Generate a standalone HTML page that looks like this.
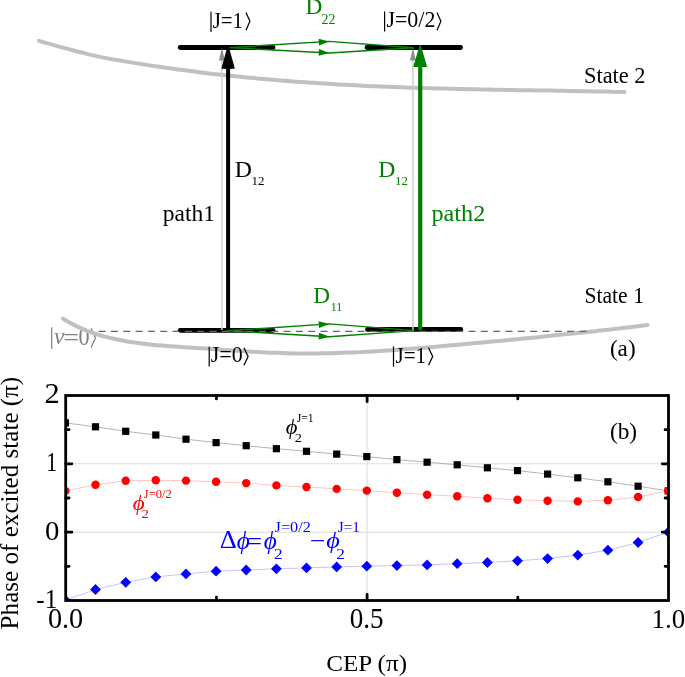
<!DOCTYPE html>
<html><head><meta charset="utf-8"><style>
html,body{margin:0;padding:0;background:#fff;width:685px;height:677px;overflow:hidden}
svg{display:block;will-change:transform}
text{font-family:"Liberation Serif",serif}
</style></head><body>
<svg width="685" height="677" viewBox="0 0 685 677">
<text font-size="22.98" fill="#808080" font-style="italic" textLength="10.56" lengthAdjust="spacingAndGlyphs" x="53.96" y="344.30">&#x3bd;</text>
<text font-size="24.50" fill="#808080" textLength="15.51" lengthAdjust="spacingAndGlyphs" x="63.47" y="345.72">=</text>
<text font-size="24.68" fill="#808080" textLength="11.09" lengthAdjust="spacingAndGlyphs" x="78.45" y="345.16">0</text>
<polyline points="91.10,328.30 95.50,338.00 91.10,347.60" fill="none" stroke="#808080" stroke-width="1.25"/>
<line x1="51.7" y1="327.2" x2="51.7" y2="349.1" stroke="#808080" stroke-width="1.2"/>
<path d="M39.0,40.8 C41.1,41.4 47.3,43.2 51.5,44.4 C55.6,45.6 59.8,46.8 63.9,47.9 C68.1,49.1 72.2,50.2 76.4,51.3 C80.5,52.4 84.7,53.4 88.8,54.4 C93.0,55.4 97.1,56.3 101.3,57.1 C105.4,58.0 109.6,58.7 113.7,59.5 C117.9,60.2 122.0,60.9 126.2,61.6 C130.4,62.3 134.5,63.0 138.7,63.6 C142.8,64.3 147.0,64.9 151.1,65.6 C155.3,66.2 159.4,66.8 163.6,67.4 C167.7,68.0 171.9,68.6 176.0,69.2 C180.2,69.7 184.3,70.3 188.5,70.8 C192.6,71.3 196.8,71.9 200.9,72.4 C205.1,72.9 209.3,73.4 213.4,73.9 C217.6,74.3 221.7,74.8 225.9,75.3 C230.0,75.7 234.2,76.2 238.3,76.6 C242.5,77.0 246.6,77.4 250.8,77.8 C254.9,78.2 259.1,78.6 263.2,79.0 C267.4,79.3 271.5,79.7 275.7,80.0 C279.8,80.4 284.0,80.7 288.1,81.0 C292.3,81.4 296.5,81.7 300.6,82.0 C304.8,82.3 308.9,82.6 313.1,82.8 C317.2,83.1 321.4,83.4 325.5,83.6 C329.7,83.9 333.8,84.1 338.0,84.4 C342.1,84.6 346.3,84.8 350.4,85.0 C354.6,85.3 358.7,85.5 362.9,85.7 C367.0,85.9 371.2,86.1 375.4,86.2 C379.5,86.4 383.7,86.6 387.8,86.8 C392.0,86.9 396.1,87.1 400.3,87.2 C404.4,87.4 408.6,87.5 412.7,87.7 C416.9,87.8 421.0,87.9 425.2,88.1 C429.3,88.2 433.5,88.3 437.6,88.4 C441.8,88.5 445.9,88.7 450.1,88.8 C454.2,88.9 458.4,89.0 462.6,89.1 C466.7,89.2 470.9,89.2 475.0,89.3 C479.2,89.4 483.3,89.5 487.5,89.6 C491.6,89.7 495.8,89.7 499.9,89.8 C504.1,89.9 508.2,90.0 512.4,90.0 C516.5,90.1 520.7,90.2 524.8,90.3 C529.0,90.3 533.1,90.4 537.3,90.4 C541.5,90.5 545.6,90.6 549.8,90.6 C553.9,90.7 558.1,90.8 562.2,90.8 C566.4,90.9 570.5,91.0 574.7,91.0 C578.8,91.1 583.0,91.2 587.1,91.2 C591.3,91.3 595.4,91.4 599.6,91.4 C603.7,91.5 607.9,91.6 612.0,91.7 C616.2,91.7 622.4,91.8 624.5,91.9" fill="none" stroke="#c0c0c0" stroke-width="4" stroke-linecap="round"/>
<path d="M63.0,318.7 C65.1,319.8 71.3,323.6 75.4,325.6 C79.6,327.7 83.7,329.5 87.9,331.1 C92.0,332.7 96.2,334.1 100.3,335.3 C104.5,336.5 108.6,337.6 112.7,338.5 C116.9,339.5 121.0,340.3 125.2,341.0 C129.3,341.7 133.5,342.4 137.6,342.9 C141.8,343.5 145.9,344.0 150.1,344.4 C154.2,344.9 158.3,345.3 162.5,345.6 C166.6,346.0 170.8,346.3 174.9,346.6 C179.1,346.9 183.2,347.1 187.4,347.4 C191.5,347.7 195.7,347.9 199.8,348.2 C203.9,348.5 208.1,348.7 212.2,349.0 C216.4,349.3 220.5,349.6 224.7,349.9 C228.8,350.1 233.0,350.4 237.1,350.7 C241.3,350.9 245.4,351.2 249.5,351.5 C253.7,351.7 257.8,351.9 262.0,352.2 C266.1,352.4 270.3,352.6 274.4,352.7 C278.6,352.9 282.7,353.0 286.9,353.2 C291.0,353.3 295.1,353.4 299.3,353.4 C303.4,353.4 307.6,353.5 311.7,353.5 C315.9,353.4 320.0,353.4 324.2,353.3 C328.3,353.3 332.5,353.2 336.6,353.1 C340.7,352.9 344.9,352.8 349.0,352.6 C353.2,352.5 357.3,352.3 361.5,352.1 C365.6,351.9 369.8,351.6 373.9,351.4 C378.0,351.2 382.2,350.9 386.3,350.6 C390.5,350.3 394.6,350.1 398.8,349.8 C402.9,349.4 407.1,349.1 411.2,348.8 C415.4,348.5 419.5,348.1 423.6,347.8 C427.8,347.4 431.9,347.1 436.1,346.7 C440.2,346.4 444.4,346.0 448.5,345.6 C452.7,345.2 456.8,344.9 461.0,344.5 C465.1,344.1 469.2,343.7 473.4,343.3 C477.5,342.9 481.7,342.6 485.8,342.2 C490.0,341.8 494.1,341.4 498.3,341.0 C502.4,340.6 506.6,340.2 510.7,339.8 C514.8,339.4 519.0,339.0 523.1,338.6 C527.3,338.2 531.4,337.8 535.6,337.4 C539.7,337.0 543.9,336.5 548.0,336.1 C552.2,335.7 556.3,335.3 560.4,334.8 C564.6,334.4 568.7,334.0 572.9,333.5 C577.0,333.1 581.2,332.7 585.3,332.2 C589.5,331.8 593.6,331.3 597.8,330.8 C601.9,330.4 606.0,329.9 610.2,329.5 C614.3,329.0 618.5,328.5 622.6,328.0 C626.8,327.6 630.9,327.1 635.1,326.6 C639.2,326.1 645.4,325.4 647.5,325.1" fill="none" stroke="#c0c0c0" stroke-width="4" stroke-linecap="round"/>
<line x1="180.2" y1="47.5" x2="273.0" y2="47.5" stroke="#000" stroke-width="4.8" stroke-linecap="round"/>
<line x1="367.0" y1="47.5" x2="460.5" y2="47.5" stroke="#000" stroke-width="4.8" stroke-linecap="round"/>
<line x1="180.2" y1="330.3" x2="273.0" y2="330.3" stroke="#000" stroke-width="4.8" stroke-linecap="round"/>
<line x1="367.5" y1="329.4" x2="460.8" y2="329.4" stroke="#000" stroke-width="4.8" stroke-linecap="round"/>
<line x1="221.9" y1="330" x2="221.9" y2="56" stroke="#cfcfcf" stroke-width="1.5"/>
<path d="M221.90,47.80 L224.90,60.40 L218.90,60.40 Z" fill="#8e8e8e" />
<line x1="412.9" y1="330" x2="412.9" y2="56" stroke="#cfcfcf" stroke-width="1.5"/>
<path d="M412.90,47.80 L415.90,60.40 L409.90,60.40 Z" fill="#8e8e8e" />
<line x1="228.1" y1="330" x2="228.1" y2="62" stroke="#000" stroke-width="4"/>
<path d="M228.10,46.50 L234.10,68.20 L222.10,68.20 Z" fill="#000" stroke="#000" stroke-width="1.2" stroke-linejoin="round"/>
<line x1="420.2" y1="330" x2="420.2" y2="62" stroke="#008000" stroke-width="4.2"/>
<path d="M420.20,45.50 L426.40,66.40 L414.00,66.40 Z" fill="#008000" stroke="#008000" stroke-width="1.2" stroke-linejoin="round"/>
<polyline points="229.5,47.6 329.3,41.4 413.5,47.8" fill="none" stroke="#008000" stroke-width="1.45" stroke-linejoin="round"/><path d="M329.30,41.40 L319.03,45.44 L318.61,38.66 Z" fill="#008000" /><polyline points="229.5,47.6 329.3,53.0 413.5,47.8" fill="none" stroke="#008000" stroke-width="1.45" stroke-linejoin="round"/><path d="M329.30,53.00 L318.63,55.83 L319.00,49.04 Z" fill="#008000" />
<polyline points="227.5,330.7 329.3,323.9 414.3,330.6" fill="none" stroke="#008000" stroke-width="1.45" stroke-linejoin="round"/><path d="M329.30,323.90 L319.05,327.99 L318.60,321.21 Z" fill="#008000" /><polyline points="227.5,330.7 329.3,336.8 414.3,330.6" fill="none" stroke="#008000" stroke-width="1.45" stroke-linejoin="round"/><path d="M329.30,336.80 L318.62,339.57 L319.02,332.78 Z" fill="#008000" />
<line x1="98.6" y1="331.4" x2="586.6" y2="331.4" stroke="#666" stroke-width="1.3" stroke-dasharray="7,5.33"/>
<text font-size="23.07" fill="#000" textLength="30.41" lengthAdjust="spacingAndGlyphs" x="212.66" y="27.75">J=1</text>
<text font-size="23.22" fill="#000" textLength="49.00" lengthAdjust="spacingAndGlyphs" x="386.38" y="27.30">J=0/2</text>
<text font-size="22.89" fill="#008000" textLength="16.80" lengthAdjust="spacingAndGlyphs" x="305.64" y="14.40">D</text>
<text font-size="14.09" fill="#008000" textLength="13.87" lengthAdjust="spacingAndGlyphs" x="321.62" y="23.71">22</text>
<text font-size="22.90" fill="#000" textLength="17.14" lengthAdjust="spacingAndGlyphs" x="234.76" y="176.90">D</text>
<text font-size="13.24" fill="#000" textLength="12.96" lengthAdjust="spacingAndGlyphs" x="251.57" y="185.35">12</text>
<text font-size="23.05" fill="#008000" textLength="17.13" lengthAdjust="spacingAndGlyphs" x="378.25" y="176.75">D</text>
<text font-size="13.23" fill="#008000" textLength="12.83" lengthAdjust="spacingAndGlyphs" x="395.02" y="185.35">12</text>
<text font-size="23.78" fill="#000" textLength="52.27" lengthAdjust="spacingAndGlyphs" x="162.70" y="221.27">path1</text>
<text font-size="23.78" fill="#008000" textLength="53.80" lengthAdjust="spacingAndGlyphs" x="431.52" y="221.27">path2</text>
<text font-size="22.68" fill="#000" textLength="61.53" lengthAdjust="spacingAndGlyphs" x="584.04" y="83.45">State 2</text>
<text font-size="22.65" fill="#000" textLength="59.65" lengthAdjust="spacingAndGlyphs" x="584.38" y="303.40">State 1</text>
<text font-size="23.05" fill="#008000" textLength="16.80" lengthAdjust="spacingAndGlyphs" x="313.25" y="302.55">D</text>
<text font-size="13.33" fill="#008000" textLength="11.46" lengthAdjust="spacingAndGlyphs" x="330.65" y="311.40">11</text>
<text font-size="22.48" fill="#000" textLength="32.03" lengthAdjust="spacingAndGlyphs" x="210.66" y="362.45">J=0</text>
<text font-size="22.32" fill="#000" textLength="30.62" lengthAdjust="spacingAndGlyphs" x="395.48" y="362.60">J=1</text>
<text font-size="23.06" fill="#000" textLength="25.74" lengthAdjust="spacingAndGlyphs" x="609.92" y="355.69">(a)</text>
<polyline points="246.00,12.40 249.90,21.35 246.00,30.30" fill="none" stroke="#000" stroke-width="1.25" stroke-linejoin="miter"/>
<polyline points="437.00,12.40 440.90,21.30 437.00,30.20" fill="none" stroke="#000" stroke-width="1.25" stroke-linejoin="miter"/>
<polyline points="243.90,347.70 248.10,356.45 243.90,365.20" fill="none" stroke="#000" stroke-width="1.25" stroke-linejoin="miter"/>
<polyline points="428.50,347.70 432.70,356.45 428.50,365.20" fill="none" stroke="#000" stroke-width="1.25" stroke-linejoin="miter"/>
<line x1="211.00" y1="11.70" x2="211.00" y2="31.90" stroke="#000" stroke-width="1.20"/>
<line x1="384.60" y1="11.50" x2="384.60" y2="31.60" stroke="#000" stroke-width="1.20"/>
<line x1="209.20" y1="346.70" x2="209.20" y2="366.50" stroke="#000" stroke-width="1.20"/>
<line x1="393.50" y1="346.40" x2="393.50" y2="366.80" stroke="#000" stroke-width="1.20"/>
<line x1="65.7" y1="463.8" x2="668.5" y2="463.8" stroke="#dcdcdc" stroke-width="1"/>
<line x1="65.7" y1="532.2" x2="668.5" y2="532.2" stroke="#dcdcdc" stroke-width="1"/>
<line x1="367.1" y1="395.5" x2="367.1" y2="600.5" stroke="#dcdcdc" stroke-width="1"/>
<defs><clipPath id="pc"><rect x="65.7" y="395.5" width="602.8" height="205.0"/></clipPath></defs><g clip-path="url(#pc)">
<polyline points="65.4,422.9 95.5,426.8 125.7,431.3 155.8,435.0 186.0,439.2 216.1,442.6 246.2,445.7 276.4,448.7 306.5,451.3 336.7,454.1 366.8,456.6 396.9,459.6 427.1,462.2 457.2,464.8 487.4,467.8 517.5,470.6 547.6,474.1 577.8,477.8 607.9,481.8 638.1,486.2 668.2,490.9" fill="none" stroke="#b4b4b4" stroke-width="1"/>
<polyline points="65.4,490.9 95.5,484.8 125.7,480.8 155.8,480.3 186.0,480.6 216.1,481.8 246.2,483.1 276.4,485.4 306.5,487.0 336.7,488.9 366.8,490.6 396.9,492.8 427.1,494.7 457.2,496.3 487.4,498.2 517.5,499.8 547.6,500.7 577.8,501.4 607.9,500.2 638.1,497.0 668.2,490.9" fill="none" stroke="#ffc4c4" stroke-width="1"/>
<polyline points="65.4,600.2 95.5,589.5 125.7,582.3 155.8,576.9 186.0,573.9 216.1,571.2 246.2,570.0 276.4,568.8 306.5,567.9 336.7,566.9 366.8,566.2 396.9,565.6 427.1,564.9 457.2,563.7 487.4,562.5 517.5,560.8 547.6,558.6 577.8,555.1 607.9,550.2 638.1,542.5 668.2,532.2" fill="none" stroke="#c4c4ff" stroke-width="1"/>
<rect x="61.8" y="419.3" width="7.2" height="7.2" fill="#000"/>
<rect x="91.9" y="423.2" width="7.2" height="7.2" fill="#000"/>
<rect x="122.1" y="427.7" width="7.2" height="7.2" fill="#000"/>
<rect x="152.2" y="431.4" width="7.2" height="7.2" fill="#000"/>
<rect x="182.4" y="435.6" width="7.2" height="7.2" fill="#000"/>
<rect x="212.5" y="439.0" width="7.2" height="7.2" fill="#000"/>
<rect x="242.6" y="442.1" width="7.2" height="7.2" fill="#000"/>
<rect x="272.8" y="445.1" width="7.2" height="7.2" fill="#000"/>
<rect x="302.9" y="447.7" width="7.2" height="7.2" fill="#000"/>
<rect x="333.1" y="450.5" width="7.2" height="7.2" fill="#000"/>
<rect x="363.2" y="453.0" width="7.2" height="7.2" fill="#000"/>
<rect x="393.3" y="456.0" width="7.2" height="7.2" fill="#000"/>
<rect x="423.5" y="458.6" width="7.2" height="7.2" fill="#000"/>
<rect x="453.6" y="461.2" width="7.2" height="7.2" fill="#000"/>
<rect x="483.8" y="464.2" width="7.2" height="7.2" fill="#000"/>
<rect x="513.9" y="467.0" width="7.2" height="7.2" fill="#000"/>
<rect x="544.0" y="470.5" width="7.2" height="7.2" fill="#000"/>
<rect x="574.2" y="474.2" width="7.2" height="7.2" fill="#000"/>
<rect x="604.3" y="478.2" width="7.2" height="7.2" fill="#000"/>
<rect x="634.5" y="482.6" width="7.2" height="7.2" fill="#000"/>
<rect x="664.6" y="487.3" width="7.2" height="7.2" fill="#000"/>
<circle cx="65.4" cy="490.9" r="4.2" fill="#ff0000"/>
<circle cx="95.5" cy="484.8" r="4.2" fill="#ff0000"/>
<circle cx="125.7" cy="480.8" r="4.2" fill="#ff0000"/>
<circle cx="155.8" cy="480.3" r="4.2" fill="#ff0000"/>
<circle cx="186.0" cy="480.6" r="4.2" fill="#ff0000"/>
<circle cx="216.1" cy="481.8" r="4.2" fill="#ff0000"/>
<circle cx="246.2" cy="483.1" r="4.2" fill="#ff0000"/>
<circle cx="276.4" cy="485.4" r="4.2" fill="#ff0000"/>
<circle cx="306.5" cy="487.0" r="4.2" fill="#ff0000"/>
<circle cx="336.7" cy="488.9" r="4.2" fill="#ff0000"/>
<circle cx="366.8" cy="490.6" r="4.2" fill="#ff0000"/>
<circle cx="396.9" cy="492.8" r="4.2" fill="#ff0000"/>
<circle cx="427.1" cy="494.7" r="4.2" fill="#ff0000"/>
<circle cx="457.2" cy="496.3" r="4.2" fill="#ff0000"/>
<circle cx="487.4" cy="498.2" r="4.2" fill="#ff0000"/>
<circle cx="517.5" cy="499.8" r="4.2" fill="#ff0000"/>
<circle cx="547.6" cy="500.7" r="4.2" fill="#ff0000"/>
<circle cx="577.8" cy="501.4" r="4.2" fill="#ff0000"/>
<circle cx="607.9" cy="500.2" r="4.2" fill="#ff0000"/>
<circle cx="638.1" cy="497.0" r="4.2" fill="#ff0000"/>
<circle cx="668.2" cy="490.9" r="4.2" fill="#ff0000"/>
<path d="M65.4,594.8 L70.8,600.2 L65.4,605.6 L60.0,600.2 Z" fill="#0000ff"/>
<path d="M95.5,584.1 L100.9,589.5 L95.5,594.9 L90.1,589.5 Z" fill="#0000ff"/>
<path d="M125.7,576.9 L131.1,582.3 L125.7,587.7 L120.3,582.3 Z" fill="#0000ff"/>
<path d="M155.8,571.5 L161.2,576.9 L155.8,582.3 L150.4,576.9 Z" fill="#0000ff"/>
<path d="M186.0,568.5 L191.4,573.9 L186.0,579.3 L180.6,573.9 Z" fill="#0000ff"/>
<path d="M216.1,565.8 L221.5,571.2 L216.1,576.6 L210.7,571.2 Z" fill="#0000ff"/>
<path d="M246.2,564.6 L251.6,570.0 L246.2,575.4 L240.8,570.0 Z" fill="#0000ff"/>
<path d="M276.4,563.4 L281.8,568.8 L276.4,574.2 L271.0,568.8 Z" fill="#0000ff"/>
<path d="M306.5,562.5 L311.9,567.9 L306.5,573.3 L301.1,567.9 Z" fill="#0000ff"/>
<path d="M336.7,561.5 L342.1,566.9 L336.7,572.3 L331.3,566.9 Z" fill="#0000ff"/>
<path d="M366.8,560.8 L372.2,566.2 L366.8,571.6 L361.4,566.2 Z" fill="#0000ff"/>
<path d="M396.9,560.2 L402.3,565.6 L396.9,571.0 L391.5,565.6 Z" fill="#0000ff"/>
<path d="M427.1,559.5 L432.5,564.9 L427.1,570.3 L421.7,564.9 Z" fill="#0000ff"/>
<path d="M457.2,558.3 L462.6,563.7 L457.2,569.1 L451.8,563.7 Z" fill="#0000ff"/>
<path d="M487.4,557.1 L492.8,562.5 L487.4,567.9 L482.0,562.5 Z" fill="#0000ff"/>
<path d="M517.5,555.4 L522.9,560.8 L517.5,566.2 L512.1,560.8 Z" fill="#0000ff"/>
<path d="M547.6,553.2 L553.0,558.6 L547.6,564.0 L542.2,558.6 Z" fill="#0000ff"/>
<path d="M577.8,549.7 L583.2,555.1 L577.8,560.5 L572.4,555.1 Z" fill="#0000ff"/>
<path d="M607.9,544.8 L613.3,550.2 L607.9,555.6 L602.5,550.2 Z" fill="#0000ff"/>
<path d="M638.1,537.1 L643.5,542.5 L638.1,547.9 L632.7,542.5 Z" fill="#0000ff"/>
<path d="M668.2,526.8 L673.6,532.2 L668.2,537.6 L662.8,532.2 Z" fill="#0000ff"/>
</g>
<rect x="65.7" y="395.5" width="602.8" height="205.0" fill="none" stroke="#000" stroke-width="2.8"/>
<path d="M216.4,600.5 V597.1 M216.4,395.5 V398.9 M367.1,600.5 V594.3 M367.1,395.5 V401.7 M517.8,600.5 V597.1 M517.8,395.5 V398.9 M65.7,429.7 H69.1 M668.5,429.7 H665.1 M65.7,463.8 H71.9 M668.5,463.8 H662.3 M65.7,498.0 H69.1 M668.5,498.0 H665.1 M65.7,532.2 H71.9 M668.5,532.2 H662.3 M65.7,566.3 H69.1 M668.5,566.3 H665.1" stroke="#000" stroke-width="2.8" stroke-linecap="round" fill="none"/>
<text font-size="22.14" fill="#000" textLength="27.17" lengthAdjust="spacingAndGlyphs" x="609.91" y="438.62">(b)</text>
<text font-size="28.65" fill="#000" textLength="15.22" lengthAdjust="spacingAndGlyphs" x="44.64" y="403.35">2</text>
<text font-size="28.18" fill="#000" textLength="10.94" lengthAdjust="spacingAndGlyphs" x="46.19" y="471.06">1</text>
<text font-size="27.99" fill="#000" textLength="14.41" lengthAdjust="spacingAndGlyphs" x="44.90" y="539.68">0</text>
<text font-size="27.42" fill="#000" textLength="20.96" lengthAdjust="spacingAndGlyphs" x="36.31" y="607.84">-1</text>
<text font-size="28.88" fill="#000" textLength="35.37" lengthAdjust="spacingAndGlyphs" x="47.88" y="628.27">0.0</text>
<text font-size="28.43" fill="#000" textLength="33.82" lengthAdjust="spacingAndGlyphs" x="349.82" y="627.85">0.5</text>
<text font-size="27.00" fill="#000" x="651.59" y="627.62">1.0</text>
<text font-size="24.00" fill="#000" textLength="80.75" lengthAdjust="spacingAndGlyphs" x="326.25" y="671.40">CEP (&#x3c0;)</text>
<text font-size="24.48" fill="#000" textLength="252.61" lengthAdjust="spacingAndGlyphs" transform="translate(17.84,629.39) rotate(-90)">Phase of excited state (&#x3c0;)</text>
<text font-size="21.22" fill="#000" font-style="italic" textLength="11.66" lengthAdjust="spacingAndGlyphs" x="285.68" y="434.24">&#x3d5;</text>
<text font-size="13.34" fill="#000" textLength="7.24" lengthAdjust="spacingAndGlyphs" x="294.75" y="442.13">2</text>
<text font-size="13.50" fill="#000" textLength="16.95" lengthAdjust="spacingAndGlyphs" x="296.67" y="421.58">J=1</text>
<text font-size="21.66" fill="#ff0000" font-style="italic" textLength="11.87" lengthAdjust="spacingAndGlyphs" x="132.87" y="509.53">&#x3d5;</text>
<text font-size="13.33" fill="#ff0000" textLength="7.48" lengthAdjust="spacingAndGlyphs" x="141.55" y="518.14">2</text>
<text font-size="13.50" fill="#ff0000" textLength="27.86" lengthAdjust="spacingAndGlyphs" x="143.78" y="497.60">J=0/2</text>
<text font-size="24.85" fill="#0000ff" textLength="17.12" lengthAdjust="spacingAndGlyphs" x="219.67" y="547.50">&#x394;</text>
<text font-size="24.53" fill="#0000ff" font-style="italic" textLength="13.09" lengthAdjust="spacingAndGlyphs" x="236.78" y="548.50">&#x3d5;</text>
<text font-size="24.50" fill="#0000ff" textLength="15.04" lengthAdjust="spacingAndGlyphs" x="246.92" y="549.97">=</text>
<text font-size="24.53" fill="#0000ff" font-style="italic" textLength="13.09" lengthAdjust="spacingAndGlyphs" x="263.78" y="548.50">&#x3d5;</text>
<text font-size="14.70" fill="#0000ff" textLength="8.61" lengthAdjust="spacingAndGlyphs" x="274.11" y="558.93">2</text>
<text font-size="14.50" fill="#0000ff" textLength="36.16" lengthAdjust="spacingAndGlyphs" x="274.64" y="531.74">J=0/2</text>
<text font-size="24.50" fill="#0000ff" textLength="15.53" lengthAdjust="spacingAndGlyphs" x="310.14" y="548.72">&#x2212;</text>
<text font-size="23.76" fill="#0000ff" font-style="italic" textLength="13.64" lengthAdjust="spacingAndGlyphs" x="326.19" y="548.07">&#x3d5;</text>
<text font-size="14.70" fill="#0000ff" textLength="8.61" lengthAdjust="spacingAndGlyphs" x="336.28" y="558.93">2</text>
<text font-size="14.50" fill="#0000ff" textLength="22.04" lengthAdjust="spacingAndGlyphs" x="337.80" y="531.85">J=1</text>
</svg></body></html>
